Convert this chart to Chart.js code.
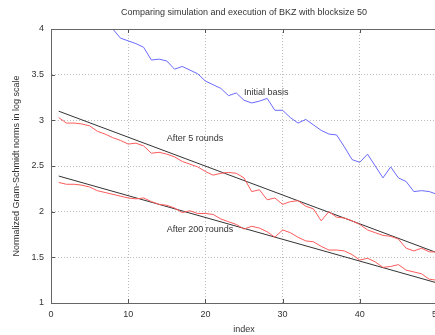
<!DOCTYPE html>
<html>
<head>
<meta charset="utf-8">
<script src="https://cdn.jsdelivr.net/npm/chart.js@4.4.0/dist/chart.umd.min.js"></script>
<style>
    html, body { margin: 0; padding: 0; background: #fff; overflow: hidden; }
    #wrap { width: 448px; height: 335px; }
</style>
</head>
<body>
<div id="wrap"><canvas id="bkz" width="448" height="335"></canvas></div>
<script>
// Axis ticks
const xTicks = [0, 10, 20, 30, 40, 50];
const yTicks = [1, 1.5, 2, 2.5, 3, 3.5, 4];

// Initial basis (blue), enters the plot at index 8
const initialIdx = [8, 9, 10, 11, 12, 13, 14, 15, 16, 17, 18, 19, 20, 21, 22, 23, 24, 25, 26, 27, 28, 29,
    30, 31, 32, 33, 34, 35, 36, 37, 38, 39, 40, 41, 42, 43, 44, 45, 46, 47, 48, 49, 50];
const initialVals = [4.00, 3.90, 3.87, 3.84, 3.80, 3.66, 3.67, 3.65, 3.56, 3.59, 3.55, 3.51, 3.43, 3.39, 3.35,
    3.27, 3.30, 3.22, 3.19, 3.21, 3.24, 3.11, 3.11, 3.03, 2.97, 3.01, 2.95, 2.89, 2.85, 2.84, 2.71, 2.57,
    2.54, 2.63, 2.50, 2.37, 2.49, 2.37, 2.33, 2.22, 2.23, 2.22, 2.19];

// Execution (red)
const roundIdx = [1, 2, 3, 4, 5, 6, 7, 8, 9, 10, 11, 12, 13, 14, 15, 16, 17, 18, 19, 20, 21, 22, 23, 24, 25,
    26, 27, 28, 29, 30, 31, 32, 33, 34, 35, 36, 37, 38, 39, 40, 41, 42, 43, 44, 45, 46, 47, 48, 49, 50];
const after5Vals = [3.03, 2.97, 2.97, 2.96, 2.94, 2.88, 2.85, 2.81, 2.78, 2.74, 2.75, 2.72, 2.64, 2.65, 2.63,
    2.60, 2.55, 2.52, 2.49, 2.44, 2.40, 2.42, 2.43, 2.42, 2.37, 2.22, 2.24, 2.13, 2.15, 2.08, 2.11, 2.12,
    2.06, 2.03, 1.90, 2.00, 1.94, 1.93, 1.90, 1.86, 1.80, 1.77, 1.74, 1.73, 1.70, 1.60, 1.57, 1.60, 1.56, 1.56];
const after200Vals = [2.32, 2.30, 2.30, 2.29, 2.27, 2.23, 2.21, 2.19, 2.17, 2.15, 2.14, 2.15, 2.11, 2.08, 2.07,
    2.04, 1.99, 2.01, 1.98, 1.98, 1.97, 1.92, 1.89, 1.86, 1.81, 1.84, 1.82, 1.78, 1.72, 1.80, 1.77, 1.72,
    1.68, 1.67, 1.62, 1.58, 1.58, 1.57, 1.53, 1.47, 1.49, 1.45, 1.39, 1.40, 1.42, 1.36, 1.34, 1.32, 1.26, 1.25];

// Simulation (black straight lines)
const simIdx = [1, 50];
const sim5Vals = [3.10, 1.55];
const sim200Vals = [2.39, 1.22];

// Curve labels
const labelTexts = ['Initial basis', 'After 5 rounds', 'After 200 rounds'];
const labelX = [25, 15, 15];
const labelY = [3.3, 2.8, 1.8];

const FONT = "'Liberation Sans', Arial, sans-serif";
const TEXT = '#333';

const pts = (xs, ys) => xs.map((x, i) => ({ x: x, y: ys[i] }));

// Frame, inward ticks and labels
const gnuFrame = {
    id: 'gnuFrame',
    afterDatasetsDraw(chart) {
        const { ctx, chartArea: a, scales: { x, y } } = chart;
        ctx.save();
        ctx.strokeStyle = '#555';
        ctx.lineWidth = 1;
        ctx.beginPath();
        xTicks.forEach(v => {
            const px = Math.round(x.getPixelForValue(v)) + 0.5;
            ctx.moveTo(px, a.bottom); ctx.lineTo(px, a.bottom - 4);
            ctx.moveTo(px, a.top); ctx.lineTo(px, a.top + 4);
        });
        yTicks.forEach(v => {
            const py = Math.round(y.getPixelForValue(v)) + 0.5;
            ctx.moveTo(a.left, py); ctx.lineTo(a.left + 4, py);
        });
        ctx.stroke();
        ctx.strokeStyle = '#666';
        ctx.strokeRect(Math.round(a.left) + 0.5, Math.round(a.top) + 0.5,
            Math.round(a.right - a.left), Math.round(a.bottom - a.top));
        ctx.fillStyle = TEXT;
        ctx.font = '9px ' + FONT;
        ctx.textBaseline = 'middle';
        ctx.textAlign = 'left';
        labelTexts.forEach((t, i) => {
            ctx.fillText(t, x.getPixelForValue(labelX[i]), y.getPixelForValue(labelY[i]));
        });
        ctx.restore();
    }
};

const ctx = document.getElementById('bkz').getContext('2d');
new Chart(ctx, {
    type: 'line',
    plugins: [gnuFrame],
    data: {
        datasets: [
            { data: pts(initialIdx, initialVals), borderColor: '#6a6aff' },
            { data: pts(roundIdx, after5Vals), borderColor: '#ff5a5a' },
            { data: pts(simIdx, sim5Vals), borderColor: '#333' },
            { data: pts(roundIdx, after200Vals), borderColor: '#ff5a5a' },
            { data: pts(simIdx, sim200Vals), borderColor: '#333' }
        ]
    },
    options: {
        responsive: false,
        animation: false,
        devicePixelRatio: 1,
        layout: { padding: 0 },
        elements: {
            line: { borderWidth: 1, tension: 0, fill: false },
            point: { radius: 0, hoverRadius: 0 }
        },
        plugins: {
            legend: { display: false },
            tooltip: { enabled: false },
            title: {
                display: true,
                text: 'Comparing simulation and execution of BKZ with blocksize 50',
                color: TEXT,
                fullSize: false,
                font: { family: FONT, size: 9, weight: 'normal' },
                padding: { top: 7.6, bottom: 10.6 }
            }
        },
        scales: {
            x: {
                type: 'linear',
                min: 0, max: 50,
                afterBuildTicks: s => { s.ticks = xTicks.map(v => ({ value: v })); },
                afterFit: s => { s.height = 32; },
                grid: { color: '#bbb', drawTicks: false },
                border: { color: '#666', dash: [1, 2] },
                ticks: { color: TEXT, padding: 6, maxRotation: 0, font: { family: FONT, size: 9 },
                    callback: v => String(v) },
                title: { display: true, text: 'index', color: TEXT, padding: { top: 0, bottom: 0 },
                    font: { family: FONT, size: 9 } }
            },
            y: {
                type: 'linear',
                min: 1, max: 4,
                afterBuildTicks: s => { s.ticks = yTicks.map(v => ({ value: v })); },
                afterFit: s => { s.width = 51; },
                grid: { color: '#bbb', drawTicks: false },
                border: { color: '#666', dash: [1, 2] },
                ticks: { color: TEXT, padding: 7, font: { family: FONT, size: 9 },
                    callback: v => String(v) },
                title: { display: true, text: 'Normalized Gram-Schmidt norms in log scale', color: TEXT,
                    padding: { top: 11.6, bottom: 0 }, font: { family: FONT, size: 9 } }
            }
        }
    }
});
</script>
</body>
</html>
